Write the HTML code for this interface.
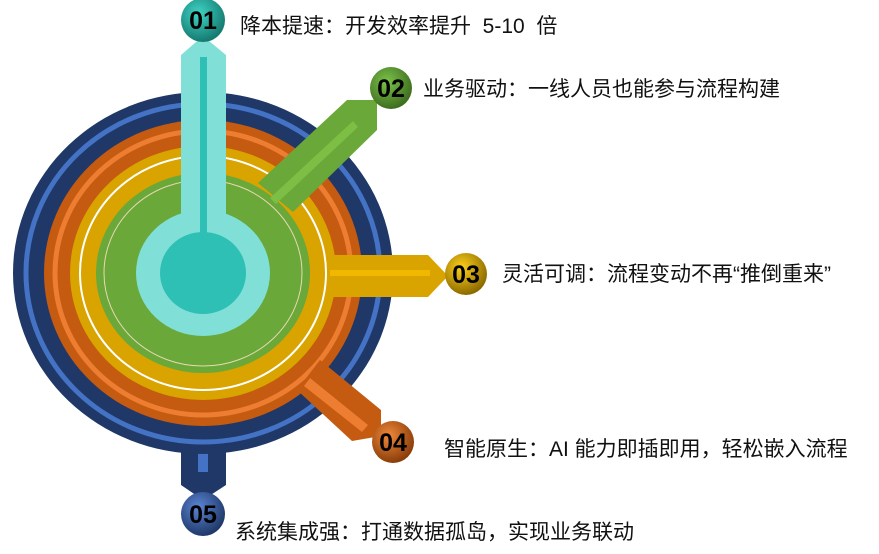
<!DOCTYPE html>
<html><head><meta charset="utf-8"><style>
html,body{margin:0;padding:0;background:#fff;width:879px;height:554px;overflow:hidden}
svg{display:block}
text.t{font-family:"Liberation Sans","Noto Sans CJK SC",sans-serif;font-size:21px;fill:#111}
text.n{font-family:"Liberation Sans",sans-serif;font-size:25px;font-weight:bold;fill:#000}
</style></head><body>
<svg width="879" height="554" viewBox="0 0 879 554">
<defs>
<radialGradient id="g1" cx="40%" cy="35%" r="65%"><stop offset="0" stop-color="#3fd4c6"/><stop offset="1" stop-color="#157a70"/></radialGradient>
<radialGradient id="g2" cx="40%" cy="35%" r="65%"><stop offset="0" stop-color="#7cc24a"/><stop offset="1" stop-color="#3e6e1f"/></radialGradient>
<radialGradient id="g3" cx="40%" cy="35%" r="65%"><stop offset="0" stop-color="#ffd21a"/><stop offset="1" stop-color="#8c6a00"/></radialGradient>
<radialGradient id="g4" cx="40%" cy="35%" r="65%"><stop offset="0" stop-color="#f0893a"/><stop offset="1" stop-color="#8a3d0a"/></radialGradient>
<radialGradient id="g5" cx="40%" cy="35%" r="65%"><stop offset="0" stop-color="#5b86d6"/><stop offset="1" stop-color="#1f3868"/></radialGradient>
</defs>
<polygon points="181,440 226,440 226,485 203,500 181,485" fill="#1f3868"/>
<rect x="198" y="430" width="10" height="42" fill="#4472c4"/>
<ellipse cx="203" cy="273" rx="190" ry="181" fill="#1f3868"/>
<ellipse cx="203" cy="273" rx="177" ry="169" fill="none" stroke="#4472c4" stroke-width="5"/>
<ellipse cx="203" cy="273" rx="159" ry="153" fill="#c55a11"/>
<ellipse cx="203" cy="273" rx="148" ry="142" fill="none" stroke="#ed7d31" stroke-width="5"/>
<ellipse cx="203" cy="273" rx="133" ry="127" fill="#d9a300"/>
<ellipse cx="203" cy="273" rx="123" ry="117" fill="none" stroke="#fff" stroke-width="2"/>
<polygon points="330,255 428,255 448,276 428,297 330,297" fill="#d9a300"/>
<rect x="330" y="270" width="100" height="6" fill="#f2b800"/>
<polygon points="320,360 381,410 381,436 352,441 297,390" fill="#c55a11"/>
<polygon points="310,378 368,425 362,432 304,386" fill="#ed7d31"/>
<ellipse cx="203" cy="273" rx="107" ry="100" fill="#6aa839"/>
<ellipse cx="203" cy="273" rx="99" ry="93" fill="none" stroke="#e8d8b0" stroke-width="1"/>
<polygon points="258,183 347,100 377,100 377,130 293,212" fill="#6aa839"/>
<polygon points="270,198 353,121 358,127 276,204" fill="#7cbf44"/>
<ellipse cx="203" cy="273" rx="67" ry="63" fill="#80e0d8"/>
<polygon points="181,55 203,36 226,55 226,230 181,230" fill="#80e0d8"/>
<rect x="200" y="57" width="7" height="180" fill="#2ec0b4"/>
<ellipse cx="203" cy="273" rx="43" ry="41" fill="#2ec0b4"/>
<circle cx="203" cy="20" r="22" fill="url(#g1)"/><text class="n" x="203" y="29" text-anchor="middle">01</text>
<circle cx="391" cy="88" r="21" fill="url(#g2)"/><text class="n" x="391" y="97" text-anchor="middle">02</text>
<circle cx="466" cy="274" r="21" fill="url(#g3)"/><text class="n" x="466" y="283" text-anchor="middle">03</text>
<circle cx="393" cy="442" r="21" fill="url(#g4)"/><text class="n" x="393" y="451" text-anchor="middle">04</text>
<circle cx="203" cy="514" r="22" fill="url(#g5)"/><text class="n" x="203" y="523" text-anchor="middle">05</text>
<text class="t" x="240" y="33" xml:space="preserve">降本提速：开发效率提升  5-10  倍</text>
<text class="t" x="423" y="96">业务驱动：一线人员也能参与流程构建</text>
<text class="t" x="502" y="281">灵活可调：流程变动不再“推倒重来”</text>
<text class="t" x="444" y="456">智能原生：AI 能力即插即用，轻松嵌入流程</text>
<text class="t" x="235" y="539">系统集成强：打通数据孤岛，实现业务联动</text>
</svg>
</body></html>
